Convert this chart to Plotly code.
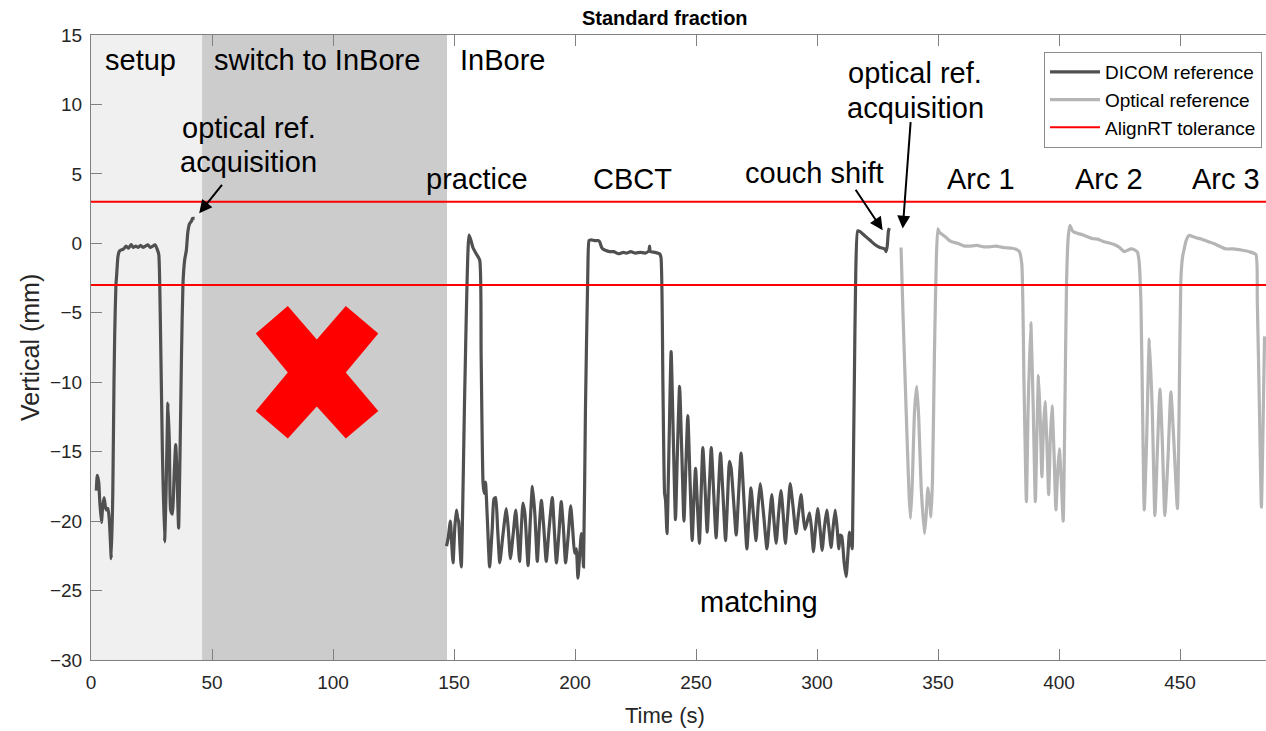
import plotly.graph_objects as go

# ---------------- data ----------------
dicom_t = [2.2, 2.6, 3.2, 3.6, 4.3, 4.8, 5.4, 5.9, 6.3, 7.0, 7.6, 8.4, 9.0, 9.5, 9.8, 10.3, 10.6, 11.1, 11.6, 12.1,
           13.5, 14.5, 15.5, 16.6, 17.5, 18.5, 19.5, 20.5, 21.5, 22.5, 23.5, 24.5, 25.5, 26.5, 27.3, 28.0, 28.6,
           29.5, 30.4, 31.0, 31.8, 32.4, 32.9, 33.6, 34.4, 35.0, 35.6, 36.2, 36.8, 37.4, 38.0, 38.7, 39.4, 40.0,
           40.7, 41.5, 42.0, 42.8, None,
           146.9, 147.6, 148.5, 149.0, 149.6, 150.3, 151.0, 151.5, 151.9, 152.5, 153.0, 154.5, 156.2, 157.0, 157.8,
           159.0, 160.6, 161.2, 162.0, 162.5, 163.0, 163.8, 164.7, 165.8, 166.5, 167.2, 168.0, 168.9, 170.2, 171.6,
           172.4, 173.3, 174.4, 175.5, 176.3, 177.1, 177.8, 178.5, 179.3, 180.6, 181.5, 182.4, 183.4, 184.4, 185.2,
           186.1, 187.1, 188.1, 189.3, 190.6, 191.4, 192.3, 193.3, 194.3, 195.2, 196.1, 197.2, 198.2, 199.0, 199.8,
           200.5, 201.2, 201.9, 202.6, 203.0, 203.5, 204.3, 205.3, 205.8, 206.7, 208.0, 209.5, 210.2, 211.0, 211.5,
           212.5, 214.3, 216.0, 218.0, 220.0, 221.2, 223.0, 225.0, 227.0, 229.0, 230.5, 230.8, 231.1, 233.0, 234.9,
           235.5, 236.3, 237.0, 237.4, 238.0, 238.9, 239.7, 240.6, 241.5, 242.3, 243.2, 244.1, 245.0, 245.8, 246.6,
           247.5, 248.4, 249.1, 249.8, 250.6, 251.4, 252.1, 252.8, 253.7, 254.6, 255.5, 256.3, 257.3, 258.3, 259.2,
           260.1, 261.1, 262.2, 263.0, 263.8, 264.5, 265.5, 266.6, 267.6, 268.6, 269.8, 271.0, 271.9, 272.7, 273.7,
           274.8, 275.6, 276.5, 277.9, 279.3, 280.3, 281.3, 282.2, 283.1, 284.1, 285.1, 286.0, 286.9, 287.9, 288.9,
           290.1, 291.3, 292.3, 293.4, 294.2, 295.0, 296.0, 296.9, 297.7, 298.5, 299.4, 300.3, 301.2, 302.1, 303.0,
           304.0, 304.9, 305.8, 306.6, 307.5, 308.3, 309.0, 309.6, 310.2, 311.2, 312.0, 312.7, 313.4, 314.0, 314.5,
           314.8, 315.4, 316.0, 316.8, 317.8, 320.0, 322.0, 324.0, 326.0, 328.0, 328.5, 329.0, 329.5, 329.9]
dicom_v = [-17.8, -16.7, -17.2, -18.5, -20.1, -19.0, -18.3, -18.9, -19.2, -19.1, -20.0, -22.7, -18.0, -10.0, -6.5,
           -3.0, -2.3, -1.0, -0.6, -0.5, -0.4, -0.2, -0.35, -0.1, -0.3, -0.2, -0.3, -0.15, -0.3, -0.2, -0.1, -0.3,
           -0.2, -0.1, -0.4, -0.8, -5.0, -15.0, -21.5, -18.0, -11.5, -14.5, -19.2, -19.5, -16.5, -14.5, -17.0, -20.5,
           -15.0, -8.0, -2.9, -1.2, -0.5, 0.8, 1.4, 1.6, 1.8, 1.8, None,
           -21.8, -21.2, -20.0, -21.5, -23.0, -20.5, -19.2, -19.8, -20.0, -22.0, -23.3, -10.0, 0.6, 0.2, -0.3,
           -0.7, -1.2, -8.0, -17.3, -18.0, -17.2, -20.0, -23.3, -20.5, -18.4, -18.3, -20.5, -23.0, -21.0, -19.1,
           -20.5, -22.7, -21.0, -19.2, -21.0, -22.9, -20.5, -18.7, -19.5, -23.2, -20.0, -17.5, -19.5, -22.9, -20.5,
           -18.5, -20.5, -22.9, -20.5, -18.3, -20.5, -23.0, -21.0, -18.6, -20.5, -23.0, -21.0, -18.9, -20.5, -22.3,
           -22.0, -24.1, -22.5, -20.9, -21.5, -23.3, -12.0, -1.9, 0.2, 0.25, 0.2, 0.2, 0.1, -0.3, -0.4,
           -0.5, -0.6, -0.6, -0.75, -0.65, -0.7, -0.6, -0.7, -0.65, -0.7, -0.55, -0.2, -0.6, -0.65, -0.75,
           -1.0, -10.0, -18.0, -18.5, -20.9, -14.0, -7.8, -14.0, -19.9, -15.0, -10.3, -15.0, -20.0, -16.0, -12.4,
           -17.0, -21.4, -18.5, -16.2, -19.0, -21.6, -18.0, -14.7, -17.5, -20.8, -17.5, -14.7, -18.0, -21.2, -18.0,
           -15.1, -18.0, -21.4, -18.5, -15.7, -16.2, -18.5, -21.0, -18.0, -15.1, -18.5, -22.0, -19.5, -17.6, -19.5,
           -21.4, -19.0, -17.3, -19.5, -22.0, -20.0, -18.1, -20.0, -21.6, -19.5, -17.8, -19.5, -21.6, -19.5, -17.3,
           -19.0, -20.9, -19.5, -18.1, -19.5, -20.6, -20.0, -19.4, -20.5, -22.2, -20.5, -19.1, -20.5, -22.1, -20.5,
           -19.2, -20.5, -21.9, -20.5, -19.2, -20.5, -22.0, -21.0, -21.1, -23.0, -24.0, -22.5, -20.8, -21.5, -22.0,
           -19.0, -10.0, -2.0, 0.9, 0.85, 0.5, 0.2, -0.1, -0.3, -0.4, -0.6, -0.2, 0.9, 1.1]

optical_t = [334.7, 335.5, 336.8, 338.0, 338.6, 339.3, 340.3, 341.2, 342.0, 343.0, 344.4, 345.1, 345.8, 346.5,
             347.1, 347.7, 348.5, 349.3, 349.9, 350.5, 352.0, 353.5, 354.7, 356.0, 358.0, 360.9, 363.0, 366.0,
             369.0, 371.2, 374.0, 377.0, 380.0, 382.0, 383.6, 384.6, 385.5, 386.5, 387.2, 388.3, 389.2, 390.2,
             390.8, 391.5, 392.2, 392.9, 393.5, 394.2, 395.0, 395.7, 396.4, 397.1, 397.9, 398.7, 399.4, 400.1,
             400.9, 401.7, 402.4, 403.1, 403.8, 404.5, 405.5, 406.3, 408.0, 410.0, 412.0, 413.9, 416.0, 418.0,
             420.7, 423.0, 425.0, 426.9, 428.3, 429.7, 431.0, 432.4, 433.0, 433.8, 434.5, 435.2, 436.2, 437.3,
             438.5, 439.6, 440.6, 441.7, 442.7, 443.7, 445.0, 446.2, 447.5, 448.9, 449.6, 450.3, 451.0, 451.7,
             452.5, 453.8, 455.0, 456.6, 459.0, 462.0, 465.0, 468.9, 472.0, 475.8, 478.5, 481.3, 481.9, 482.8,
             483.6, 484.3, 484.9]
optical_v = [-0.3, -5.0, -12.0, -18.0, -19.8, -17.5, -12.0, -10.3, -12.5, -17.5, -20.9, -19.5, -17.6, -18.5,
             -19.7, -17.0, -8.0, -1.0, 1.05, 0.8, 0.6, 0.4, 0.2, 0.1, 0.0, -0.2, -0.2, -0.15,
             -0.25, -0.25, -0.2, -0.3, -0.35, -0.4, -0.6, -1.5, -10.0, -18.6, -12.0, -5.7, -11.0, -18.6,
             -14.0, -9.5, -12.5, -16.8, -13.5, -11.4, -14.5, -18.1, -14.0, -11.7, -15.0, -19.2, -16.5, -14.8,
             -17.0, -20.0, -12.0, -2.7, 0.5, 1.3, 0.9, 0.8, 0.7, 0.6, 0.45, 0.33, 0.3, 0.15,
             0.02, -0.1, -0.3, -0.6, -0.5, -0.4, -0.45, -0.65, -1.2, -4.1, -12.0, -19.2, -14.0, -6.9,
             -12.0, -19.6, -15.0, -10.5, -14.5, -19.6, -15.5, -10.7, -14.5, -19.1, -12.0, -2.7, -1.0, -0.4,
             0.2, 0.58, 0.5, 0.4, 0.3, 0.1, -0.1, -0.4, -0.4, -0.5, -0.6, -0.8, -4.1, -12.0,
             -19.0, -13.0, -6.7]

tolerance = [3, -3]
x_range = [0, 485.5]
y_range = [-30, 15]
x_ticks = [0, 50, 100, 150, 200, 250, 300, 350, 400, 450]
y_ticks = [-30, -25, -20, -15, -10, -5, 0, 5, 10, 15]

phase_bounds = [0, 45.9, 147.1]
phase_colors = ["#f0f0f0", "#cccccc"]
phase_labels = ["setup", "switch to InBore", "InBore"]
phase_label_x = [5.0, 50.0, 151.5]

step_labels = ["practice", "CBCT", "couch shift", "Arc 1", "Arc 2", "Arc 3", "matching"]
step_label_x = [159.4, 223.8, 298.9, 367.9, 420.7, 469.0, 276.2]
step_label_y = [4.6, 4.6, 5.04, 4.6, 4.6, 4.6, -25.83]

cross_t, cross_v = 93.3, -9.3

FONT = "Liberation Sans, Arial, sans-serif"
DICOM_COLOR = "#505050"
OPTICAL_COLOR = "#b5b5b5"
ANN_SIZE = 29

fig = go.Figure()

fig.add_trace(go.Scatter(x=dicom_t, y=dicom_v, mode="lines", name="DICOM reference",
                         line=dict(color=DICOM_COLOR, width=3.2, shape="spline", smoothing=0.5),
                         connectgaps=False))
fig.add_trace(go.Scatter(x=optical_t, y=optical_v, mode="lines", name="Optical reference",
                         line=dict(color=OPTICAL_COLOR, width=3.2, shape="spline", smoothing=0.5)))
fig.add_trace(go.Scatter(x=[x_range[0], x_range[1], None, x_range[0], x_range[1]],
                         y=[tolerance[0], tolerance[0], None, tolerance[1], tolerance[1]],
                         mode="lines", name="AlignRT tolerance",
                         line=dict(color="#ff0000", width=2)))

shapes = []
for i, c in enumerate(phase_colors):
    shapes.append(dict(type="rect", xref="x", yref="y", x0=phase_bounds[i], x1=phase_bounds[i + 1],
                       y0=y_range[0], y1=y_range[1], fillcolor=c, line=dict(width=0), layer="below"))

# red cross (pixel-sized polygon anchored at data point)
cross_path = ("M0,33 L29,66.5 L61.5,39 L29,0 L61.5,-38.5 L29,-66 L0,-34 L-29,-66 L-61,-38.5 "
              "L-29,0 L-61,39 L-29,66.5 Z")
shapes.append(dict(type="path", xref="x", yref="y", xsizemode="pixel", ysizemode="pixel",
                   xanchor=cross_t, yanchor=cross_v, path=cross_path,
                   fillcolor="#ff0000", line=dict(width=0), layer="above"))

annotations = []
for lab, x in zip(phase_labels, phase_label_x):
    annotations.append(dict(x=x, y=13.17, xref="x", yref="y", text=lab, showarrow=False,
                            xanchor="left", yanchor="middle",
                            font=dict(size=ANN_SIZE, color="black", family=FONT)))
for lab, x, y in zip(step_labels, step_label_x, step_label_y):
    annotations.append(dict(x=x, y=y, xref="x", yref="y", text=lab, showarrow=False,
                            xanchor="center", yanchor="middle",
                            font=dict(size=ANN_SIZE, color="black", family=FONT)))
# optical ref acquisition labels
for (x, y1, y2) in [(65.2, 8.27, 5.83), (340.6, 12.23, 9.78)]:
    annotations.append(dict(x=x, y=y1, xref="x", yref="y", text="optical ref.", showarrow=False,
                            xanchor="center", yanchor="middle",
                            font=dict(size=ANN_SIZE, color="black", family=FONT)))
    annotations.append(dict(x=x, y=y2, xref="x", yref="y", text="acquisition", showarrow=False,
                            xanchor="center", yanchor="middle",
                            font=dict(size=ANN_SIZE, color="black", family=FONT)))
# arrows
for (x, y, ax, ay) in [(44.7, 2.16, 24, -30), (327.1, 0.94, -28, -42), (335.4, 1.06, 8, -108)]:
    annotations.append(dict(x=x, y=y, xref="x", yref="y", text="", showarrow=True, ax=ax, ay=ay,
                            arrowhead=2, arrowsize=1.3, arrowwidth=2, arrowcolor="black", standoff=0))
# title and axis titles
annotations.append(dict(x=(665 - 91) / 1175, y=(660 - 18) / 625, xref="paper", yref="paper",
                        text="<b>Standard fraction</b>", showarrow=False, xanchor="center", yanchor="middle",
                        font=dict(size=20, color="black", family=FONT)))
annotations.append(dict(x=(665 - 91) / 1175, y=(660 - 716) / 625, xref="paper", yref="paper",
                        text="Time (s)", showarrow=False, xanchor="center", yanchor="middle",
                        font=dict(size=22, color="#262626", family=FONT)))
annotations.append(dict(x=(30 - 91) / 1175, y=(660 - 348) / 625, xref="paper", yref="paper",
                        text="Vertical (mm)", showarrow=False, xanchor="center", yanchor="middle",
                        textangle=-90, font=dict(size=25, color="#262626", family=FONT)))

fig.update_layout(
    width=1266, height=731,
    margin=dict(l=91, r=0, t=35, b=71),
    plot_bgcolor="white", paper_bgcolor="white",
    shapes=shapes, annotations=annotations,
    font=dict(family=FONT, color="#262626"),
    legend=dict(x=(1262 - 91) / 1175, y=(660 - 52) / 625, xanchor="right", yanchor="top",
                bgcolor="white", bordercolor="#8c8c8c", borderwidth=1,
                font=dict(size=19, color="black", family=FONT), tracegroupgap=0,
                itemwidth=50),
)
fig.update_xaxes(range=x_range, tickvals=x_ticks, showgrid=False, zeroline=False,
                 showline=True, linecolor="#808080", linewidth=1, mirror="ticks",
                 ticks="inside", ticklen=11, tickcolor="#808080", ticklabelstandoff=5,
                 tickfont=dict(size=19, color="#262626", family=FONT))
fig.update_yaxes(range=y_range, tickvals=y_ticks, showgrid=False, zeroline=False,
                 showline=True, linecolor="#808080", linewidth=1, mirror=False,
                 ticks="inside", ticklen=11, tickcolor="#808080", ticklabelstandoff=4,
                 tickfont=dict(size=19, color="#262626", family=FONT))

fig.write_html("out.html")
